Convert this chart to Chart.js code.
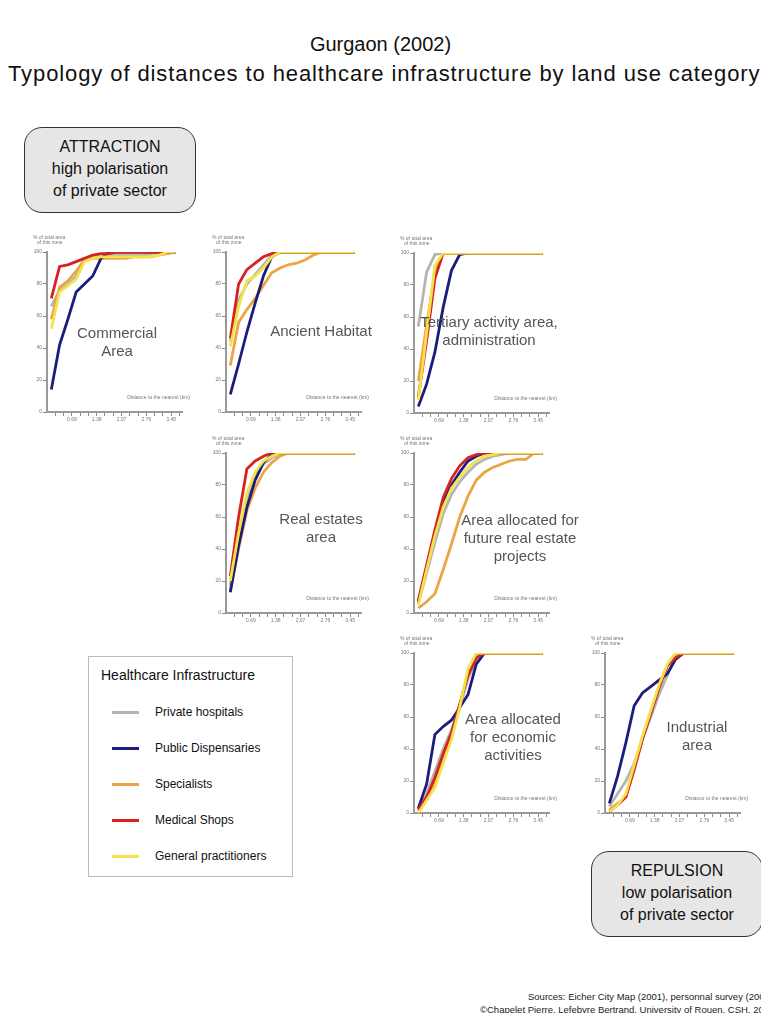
<!DOCTYPE html>
<html>
<head>
<meta charset="utf-8">
<script src="https://cdn.jsdelivr.net/npm/chart.js@4.4.1/dist/chart.umd.min.js"></script>
<style>
  html, body { margin: 0; padding: 0; background: #fff; }
  body { width: 761px; height: 1013px; position: relative; overflow: hidden; font-family: "Liberation Sans", Arial, sans-serif; color: #111; }
  .title { position: absolute; left: -100px; width: 961px; text-align: center; font-size: 20px; white-space: nowrap; }
  .bubble { position: absolute; width: 172px; height: 86px; box-sizing: border-box; border: 1.5px solid #333; border-radius: 18px; background: #e6e6e6; text-align: center; font-size: 16px; line-height: 22px; padding-top: 8px; }
  canvas { position: absolute; }
  .zone { position: absolute; width: 220px; margin-left: -110px; text-align: center; font-size: 15px; line-height: 18px; color: #555; }
  .legend { position: absolute; left: 88px; top: 656px; width: 205px; height: 221px; box-sizing: border-box; border: 1px solid #bbb; }
  .legend h4 { margin: 0; position: absolute; left: 12px; top: 10px; font-size: 14px; font-weight: normal; }
  .legend .item { position: absolute; left: 23px; font-size: 12px; }
  .legend .item span { display: inline-block; width: 27px; height: 3px; vertical-align: middle; margin-right: 16px; }
  .src { position: absolute; font-size: 9.5px; white-space: nowrap; color: #222; }
</style>
</head>
<body>
<div class="title" style="top: 33px;">Gurgaon (2002)</div>
<div class="title" style="top: 61px; left: 8px; width: auto; text-align: left; font-size: 22px; letter-spacing: 0.9px;">Typology of distances to healthcare infrastructure by land use category</div>

<div class="bubble" style="left: 24px; top: 127px;">ATTRACTION<br>high polarisation<br>of private sector</div>
<div class="bubble" style="left: 591px; top: 851px;">REPULSION<br>low polarisation<br>of private sector</div>

<canvas id="c1" width="171" height="200"></canvas>
<canvas id="c2" width="171" height="200"></canvas>
<canvas id="c3" width="171" height="200"></canvas>
<canvas id="c4" width="171" height="200"></canvas>
<canvas id="c5" width="171" height="200"></canvas>
<canvas id="c6" width="171" height="200"></canvas>
<canvas id="c7" width="171" height="200"></canvas>

<div class="zone" style="left: 117px; top: 324px;">Commercial<br>Area</div>
<div class="zone" style="left: 321px; top: 322px;">Ancient Habitat</div>
<div class="zone" style="left: 489px; top: 313px;">Tertiary activity area,<br>administration</div>
<div class="zone" style="left: 321px; top: 510px;">Real estates<br>area</div>
<div class="zone" style="left: 520px; top: 511px;">Area allocated for<br>future real estate<br>projects</div>
<div class="zone" style="left: 513px; top: 710px;">Area allocated<br>for economic<br>activities</div>
<div class="zone" style="left: 697px; top: 718px;">Industrial<br>area</div>

<div class="legend">
  <h4>Healthcare Infrastructure</h4>
  <div class="item" style="top: 48px;"><span style="background:#b4b4b4"></span>Private hospitals</div>
  <div class="item" style="top: 84px;"><span style="background:#1c1c7c"></span>Public Dispensaries</div>
  <div class="item" style="top: 120px;"><span style="background:#eba545"></span>Specialists</div>
  <div class="item" style="top: 156px;"><span style="background:#d82222"></span>Medical Shops</div>
  <div class="item" style="top: 192px;"><span style="background:#f3e34a"></span>General practitioners</div>
</div>

<div class="src" style="left: 528px; top: 991px;">Sources: Eicher City Map (2001), personnal survey (2002)</div>
<div class="src" style="left: 480px; top: 1004px;">©Chapelet Pierre, Lefebvre Bertrand, University of Rouen, CSH, 2003</div>

<script>
// series (same order in every zone)
const seriesNames = ["Private hospitals", "Public Dispensaries", "Specialists", "Medical Shops", "General practitioners"];
const seriesColors = ["#b4b4b4", "#1c1c7c", "#eba545", "#d82222", "#f3e34a"];
const drawOrder = [5, 3, 4, 2, 1]; // lower = on top

// distance classes (km, class centres) and axis ticks
const distances = [0.12, 0.35, 0.58, 0.81, 1.04, 1.27, 1.50, 1.73, 1.96, 2.19, 2.42, 2.65, 2.88, 3.11, 3.34, 3.57];
const tickValues = [0.23, 0.46, 0.69, 0.92, 1.15, 1.38, 1.61, 1.84, 2.07, 2.30, 2.53, 2.76, 2.99, 3.22, 3.45, 3.68];
const tickLabels = ["", "", "0.69", "", "", "1.38", "", "", "2.07", "", "", "2.76", "", "", "3.45", ""];

// cumulative % of zone area, per zone: [private hosp, public disp, specialists, medical shops, GPs]
const commercialArea = [
    [66, 76, 80, 85, 95, 97, 98, 98, 98, 98, 98, 98, 99, 100, 100, 100],
    [14, 42, 58, 75, 80, 85, 96, 100, 100, 100, 100, 100, 100, 100, 100, 100],
    [58, 78, 82, 88, 95, 96, 96, 96, 96, 96, 97, 97, 97, 98, 99, 100],
    [71, 91, 92, 94, 96, 98, 99, 99, 100, 100, 100, 100, 100, 100, 100, 100],
    [52, 75, 79, 83, 94, 96, 97, 97, 97, 97, 97, 97, 97, 98, 100, 100],
];
const ancientHabitat = [
    [44, 70, 80, 86, 92, 98, 100, 100, 100, 100, 100, 100, 100, 100, 100, 100],
    [11, 30, 50, 68, 85, 97, 100, 100, 100, 100, 100, 100, 100, 100, 100, 100],
    [29, 56, 64, 71, 79, 87, 90, 92, 93, 95, 98, 100, 100, 100, 100, 100],
    [46, 80, 89, 93, 97, 99, 100, 100, 100, 100, 100, 100, 100, 100, 100, 100],
    [41, 66, 82, 85, 90, 97, 100, 100, 100, 100, 100, 100, 100, 100, 100, 100],
];
const tertiaryArea = [
    [54, 88, 99, 100, 100, 100, 100, 100, 100, 100, 100, 100, 100, 100, 100, 100],
    [4, 18, 38, 66, 89, 99, 100, 100, 100, 100, 100, 100, 100, 100, 100, 100],
    [20, 55, 88, 100, 100, 100, 100, 100, 100, 100, 100, 100, 100, 100, 100, 100],
    [10, 45, 84, 100, 100, 100, 100, 100, 100, 100, 100, 100, 100, 100, 100, 100],
    [8, 50, 92, 100, 100, 100, 100, 100, 100, 100, 100, 100, 100, 100, 100, 100],
];
const realEstates = [
    [17, 48, 72, 86, 93, 97, 99, 100, 100, 100, 100, 100, 100, 100, 100, 100],
    [13, 42, 66, 83, 94, 99, 100, 100, 100, 100, 100, 100, 100, 100, 100, 100],
    [14, 40, 64, 78, 88, 94, 98, 100, 100, 100, 100, 100, 100, 100, 100, 100],
    [23, 60, 90, 95, 98, 100, 100, 100, 100, 100, 100, 100, 100, 100, 100, 100],
    [20, 50, 75, 88, 95, 98, 100, 100, 100, 100, 100, 100, 100, 100, 100, 100],
];
const futureRealEstate = [
    [6, 25, 44, 62, 74, 82, 88, 93, 96, 98, 99, 100, 100, 100, 100, 100],
    [7, 28, 50, 70, 80, 88, 95, 98, 100, 100, 100, 100, 100, 100, 100, 100],
    [3, 7, 12, 27, 43, 60, 73, 83, 88, 91, 93, 95, 96, 96, 100, 100],
    [8, 30, 52, 72, 84, 92, 97, 99, 100, 100, 100, 100, 100, 100, 100, 100],
    [5, 27, 48, 66, 78, 85, 91, 95, 98, 99, 100, 100, 100, 100, 100, 100],
];
const economicActivities = [
    [2, 12, 26, 40, 52, 66, 84, 95, 100, 100, 100, 100, 100, 100, 100, 100],
    [3, 18, 49, 54, 58, 66, 74, 93, 100, 100, 100, 100, 100, 100, 100, 100],
    [1, 8, 18, 33, 47, 67, 88, 99, 100, 100, 100, 100, 100, 100, 100, 100],
    [2, 10, 22, 37, 50, 68, 86, 97, 100, 100, 100, 100, 100, 100, 100, 100],
    [0, 8, 16, 31, 46, 66, 90, 100, 100, 100, 100, 100, 100, 100, 100, 100],
];
const industrialArea = [
    [4, 12, 20, 31, 46, 60, 74, 86, 98, 100, 100, 100, 100, 100, 100, 100],
    [6, 23, 44, 67, 75, 79, 83, 87, 96, 100, 100, 100, 100, 100, 100, 100],
    [2, 6, 10, 28, 47, 63, 79, 92, 98, 100, 100, 100, 100, 100, 100, 100],
    [1, 5, 10, 27, 46, 62, 78, 92, 97, 100, 100, 100, 100, 100, 100, 100],
    [1, 5, 12, 30, 48, 64, 80, 93, 100, 100, 100, 100, 100, 100, 100, 100],
];

// small axis captions drawn in each panel
const axisCaptions = {
    id: "axisCaptions",
    afterDraw(chart) {
        const ctx = chart.ctx;
        const area = chart.chartArea;
        ctx.save();
        ctx.font = "5px Arial";
        ctx.fillStyle = "#777";
        ctx.textAlign = "left";
        ctx.fillText("% of total area", area.left - 14, area.top - 13);
        ctx.fillText("of this zone", area.left - 10, area.top - 8);
        ctx.textAlign = "right";
        ctx.fillText("Distance to the nearest (km)", area.right + 8, area.bottom - 13);
        ctx.restore();
    }
};

function makePanel(id, axisX, topY, zone) {
    const canvas = document.getElementById(id);
    canvas.style.left = (axisX - 26) + "px";
    canvas.style.top = (topY - 22) + "px";

    new Chart(canvas.getContext("2d"), {
        type: "line",
        data: {
            datasets: zone.map((values, s) => ({
                label: seriesNames[s],
                data: values.map((v, i) => ({ x: distances[i], y: v })),
                borderColor: seriesColors[s],
                borderWidth: 2.8,
                pointRadius: 0,
                tension: 0,
                order: drawOrder[s],
            })),
        },
        options: {
            responsive: false,
            animation: false,
            devicePixelRatio: 1,
            layout: { padding: { top: 22, left: 4, right: 10, bottom: 4 } },
            plugins: { legend: { display: false }, tooltip: { enabled: false } },
            scales: {
                x: {
                    type: "linear",
                    min: 0,
                    max: 3.75,
                    afterBuildTicks: (scale) => {
                        scale.ticks = tickValues.map((v) => ({ value: v }));
                    },
                    afterFit: (scale) => { scale.height = 14; },
                    ticks: {
                        autoSkip: false,
                        maxRotation: 0,
                        padding: 1,
                        color: "#777",
                        font: { size: 5 },
                        callback: (value, index) => tickLabels[index],
                    },
                    grid: { drawOnChartArea: false, tickLength: 4, color: "#888" },
                    border: { color: "#999", width: 2 },
                },
                y: {
                    min: 0,
                    max: 100,
                    afterFit: (scale) => { scale.width = 22; },
                    ticks: { stepSize: 20, padding: 1, color: "#777", font: { size: 5 } },
                    grid: { drawOnChartArea: false, tickLength: 4, color: "#888" },
                    border: { color: "#999", width: 2 },
                },
            },
        },
        plugins: [axisCaptions],
    });
}

makePanel("c1", 47, 252, commercialArea);
makePanel("c2", 226, 252, ancientHabitat);
makePanel("c3", 414, 253, tertiaryArea);
makePanel("c4", 226, 453, realEstates);
makePanel("c5", 414, 453, futureRealEstate);
makePanel("c6", 414, 653, economicActivities);
makePanel("c7", 605, 653, industrialArea);
</script>
</body>
</html>
